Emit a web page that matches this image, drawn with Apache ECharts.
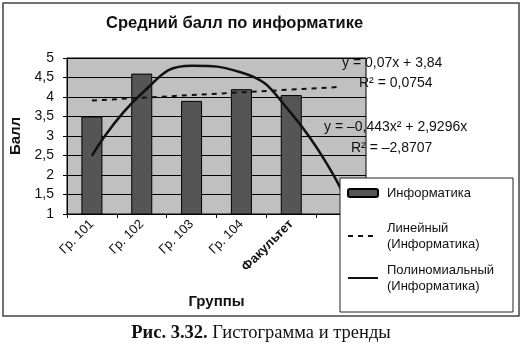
<!DOCTYPE html>
<html><head><meta charset="utf-8">
<script src="https://cdn.jsdelivr.net/npm/echarts@6/dist/echarts.min.js"></script>
<style>html,body{margin:0;padding:0;background:#fff}#c{width:523px;height:361px}</style>
</head><body><div id="c"></div>
<script>
// ---- data ----
const categories = ['Гр. 101', 'Гр. 102', 'Гр. 103', 'Гр. 104', 'Факультет', ''];
const informatika = [3.5, 4.6, 3.9, 4.2, 4.05];
const linearTrend = [3.91, 3.98, 4.05, 4.12, 4.19, 4.26];
const polyTrend = [2.49, 4.09, 4.80, 4.63, 3.58, 1.63];
const yMin = 1, yMax = 5, yStep = 0.5;
const seriesNames = ['Информатика', 'Линейный\n(Информатика)', 'Полиномиальный\n(Информатика)'];
const equations = ['y = 0,07x + 3,84', 'R² = 0,0754', 'y = –0,443x² + 2,9296x', 'R² = –2,8707'];
const titleText = 'Средний балл по информатике';
const yName = 'Балл', xName = 'Группы';
const captionBold = 'Рис. 3.32.', captionRest = ' Гистограмма и тренды';

const SANS = '"Liberation Sans", Arial, sans-serif';
const SERIF = '"Liberation Serif", "Times New Roman", serif';

const chart = echarts.init(document.getElementById('c'), null, {renderer: 'canvas'});
chart.setOption({
  animation: false,
  backgroundColor: '#fff',
  title: {
    text: titleText, left: 106, top: 15, padding: 0,
    textStyle: {fontFamily: SANS, fontSize: 16.5, fontWeight: 'bold', color: '#111'}
  },
  grid: {
    left: 67, right: 157, top: 58, bottom: 147,
    show: true, backgroundColor: '#c0c0c0', borderColor: '#000', borderWidth: 1
  },
  xAxis: {
    type: 'category', data: categories, boundaryGap: true,
    name: xName, nameLocation: 'middle', nameGap: 80,
    nameTextStyle: {fontFamily: SANS, fontSize: 15, fontWeight: 'bold', color: '#111'},
    axisLine: {lineStyle: {color: '#000', width: 1}},
    axisTick: {show: true, length: 4, lineStyle: {color: '#000'}},
    axisLabel: {
      interval: 0, rotate: 45, margin: 8, fontFamily: SANS, fontSize: 13, color: '#111',
      formatter: v => v === 'Факультет' ? '{b|' + v + '}' : v,
      rich: {b: {fontWeight: 'bold', fontFamily: SANS, fontSize: 13, color: '#111'}}
    },
    splitLine: {show: false}
  },
  yAxis: {
    type: 'value', min: yMin, max: yMax, interval: yStep,
    name: yName, nameLocation: 'middle', nameRotate: 90, nameGap: 36,
    nameTextStyle: {fontFamily: SANS, fontSize: 15, fontWeight: 'bold', color: '#111'},
    axisLine: {show: true, lineStyle: {color: '#000', width: 1}},
    axisTick: {show: true, length: 4, lineStyle: {color: '#000'}},
    axisLabel: {
      margin: 13, fontFamily: SANS, fontSize: 14, color: '#111',
      formatter: v => String(v).replace('.', ',')
    },
    splitLine: {show: true, lineStyle: {color: '#000', width: 1}}
  },
  legend: {
    orient: 'vertical', left: 347, top: 168, padding: 0, itemGap: -6,
    itemWidth: 30, itemHeight: 8, z: 20,
    textStyle: {fontFamily: SANS, fontSize: 13, color: '#111', lineHeight: 16},
    data: [
      {name: seriesNames[0], textStyle: {padding: [17, 0, 17, 4]}},
      {name: seriesNames[1], textStyle: {padding: [16, 0, 0, 4]}, itemStyle: {opacity: 0}},
      {name: seriesNames[2], textStyle: {padding: [16, 0, 0, 4]}, itemStyle: {opacity: 0}}
    ]
  },
  series: [
    {
      name: seriesNames[0], type: 'bar', data: informatika, barWidth: 21,
      itemStyle: {color: '#555555', borderColor: '#000', borderWidth: 1}
    },
    {
      name: seriesNames[1], type: 'line', data: linearTrend, symbol: 'none', z: 3,
      itemStyle: {color: 'rgba(0,0,0,0)'},
      lineStyle: {color: '#111', width: 2, type: [5, 5]}
    },
    {
      name: seriesNames[2], type: 'line', data: polyTrend, symbol: 'none', z: 4,
      itemStyle: {color: 'rgba(0,0,0,0)'},
      smooth: 0.5, lineStyle: {color: '#111', width: 2.5}
    }
  ],
  graphic: [
    {type: 'rect', z: 1, shape: {x: 3, y: 3, width: 516, height: 313},
      style: {fill: 'none', stroke: '#444', lineWidth: 1.5}},
    {type: 'rect', z: 15, shape: {x: 340, y: 178, width: 173, height: 134},
      style: {fill: '#fff', stroke: '#222', lineWidth: 1}},
    {type: 'text', z: 10, x: 342, y: 63, style: {text: equations[0], font: '14px ' + SANS, fill: '#111', verticalAlign: 'middle'}},
    {type: 'text', z: 10, x: 359, y: 83, style: {text: equations[1], font: '14px ' + SANS, fill: '#111', verticalAlign: 'middle'}},
    {type: 'text', z: 10, x: 324, y: 127, style: {text: equations[2], font: '14px ' + SANS, fill: '#111', verticalAlign: 'middle'}},
    {type: 'text', z: 10, x: 351, y: 148, style: {text: equations[3], font: '14px ' + SANS, fill: '#111', verticalAlign: 'middle'}},
    {type: 'text', z: 10, x: 261, y: 333, style: {
      text: '{b|' + captionBold + '}' + captionRest,
      font: '18.5px ' + SERIF, fill: '#111', align: 'center', verticalAlign: 'middle',
      rich: {b: {fontWeight: 'bold', fontFamily: SERIF, fontSize: 18.5, fill: '#111'}}
    }}
  ]
});
</script></body></html>
